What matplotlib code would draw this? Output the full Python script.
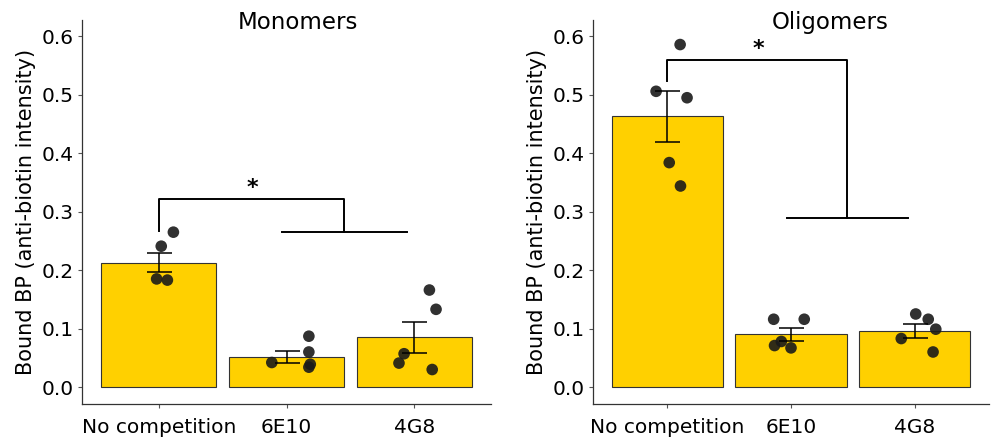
import numpy as np
import matplotlib.pyplot as plt

# Categories and panel titles
groups = ['No competition', '6E10', '4G8']

# Monomers: bar means, SE, individual points (x jitter offsets, y values)
mono_mean = [0.213, 0.052, 0.085]
mono_se = [0.017, 0.010, 0.027]
mono_pts_y = [[0.265, 0.241, 0.185, 0.183],
              [0.042, 0.087, 0.060, 0.039, 0.034],
              [0.166, 0.133, 0.057, 0.041, 0.030]]
mono_pts_dx = [[0.115, 0.02, -0.016, 0.068],
               [-0.115, 0.175, 0.175, 0.186, 0.175],
               [0.118, 0.17, -0.08, -0.12, 0.14]]

# Oligomers
olig_mean = [0.463, 0.090, 0.096]
olig_se = [0.044, 0.011, 0.012]
olig_pts_y = [[0.586, 0.506, 0.495, 0.384, 0.344],
              [0.116, 0.116, 0.078, 0.071, 0.067],
              [0.125, 0.116, 0.099, 0.083, 0.060]]
olig_pts_dx = [[0.104, -0.09, 0.16, 0.016, 0.107],
               [-0.14, 0.107, -0.078, -0.133, 0.0],
               [0.008, 0.109, 0.17, -0.109, 0.148]]

# significance brackets: (top y, left leg bottom, right leg bottom)
mono_bracket = (0.321, 0.267, 0.266)
olig_bracket = (0.560, 0.523, 0.290)

BAR_COLOR = '#FFD000'
PT_COLOR = '#1a1a1a'


def draw_panel(ax, title, means, se, pts_y, pts_dx, bracket, title_x):
    x = np.arange(len(groups))
    ax.bar(x, means, width=0.9, color=BAR_COLOR, edgecolor='#333333', linewidth=0.8, zorder=1)
    for i in range(len(groups)):
        ax.scatter(x[i] + np.array(pts_dx[i]), pts_y[i], s=70, color=PT_COLOR,
                   alpha=0.9, edgecolors='none', zorder=3)
    ax.errorbar(x, means, yerr=se, fmt='none', ecolor='black', elinewidth=1.1,
                capsize=9, capthick=1.1, zorder=4)

    # bracket from first bar to the pair of the other two
    top, leg1, leg2 = bracket
    mid = 1.45
    ax.plot([0, 0, mid, mid], [leg1, top, top, leg2], color='black', lw=1.4, zorder=2)
    ax.plot([0.965, 1.945], [leg2, leg2], color='black', lw=1.4, zorder=2)
    ax.text(0.735, top + 0.002, '*', ha='center', va='bottom', fontsize=16, fontweight='bold')

    ax.set_xlim(-0.6, 2.6)
    ax.set_ylim(-0.029, 0.628)
    ax.set_xticks(x)
    ax.set_xticklabels(groups, fontsize=14.5)
    ax.set_yticks([0.0, 0.1, 0.2, 0.3, 0.4, 0.5, 0.6])
    ax.set_yticklabels(['0.0', '0.1', '0.2', '0.3', '0.4', '0.5', '0.6'], fontsize=14.5)
    ax.tick_params(axis='both', colors='#555555', labelcolor='black', length=3, width=0.8, pad=3)
    ax.tick_params(axis='x', pad=7)
    for s in ['top', 'right']:
        ax.spines[s].set_visible(False)
    for s in ['left', 'bottom']:
        ax.spines[s].set_color('#333333')
        ax.spines[s].set_linewidth(0.9)
    ax.set_ylabel('Bound BP (anti-biotin intensity)', fontsize=15, labelpad=4)
    ax.text(title_x, 0.977, title, transform=ax.transAxes, ha='center', va='baseline', fontsize=16.5)


fig = plt.figure(figsize=(9.92, 4.46), dpi=100)
W, H = 992, 446
ax1 = fig.add_axes([82 / W, (H - 404) / H, (491 - 82) / W, (404 - 20) / H])
ax2 = fig.add_axes([593 / W, (H - 404) / H, (989 - 593) / W, (404 - 20) / H])

draw_panel(ax1, 'Monomers', mono_mean, mono_se, mono_pts_y, mono_pts_dx, mono_bracket, 0.527)
draw_panel(ax2, 'Oligomers', olig_mean, olig_se, olig_pts_y, olig_pts_dx, olig_bracket, 0.60)

fig.savefig('out.png', dpi=100)
